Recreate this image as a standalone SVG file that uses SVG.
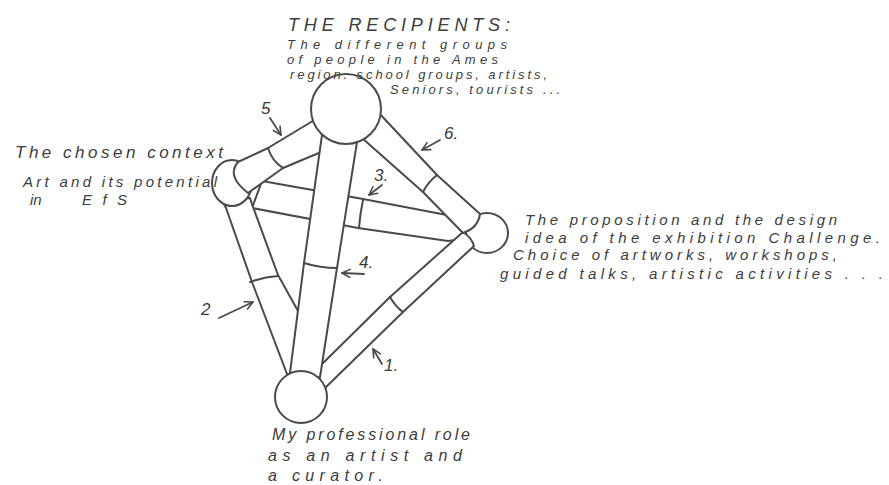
<svg xmlns="http://www.w3.org/2000/svg" width="889" height="485" viewBox="0 0 889 485">
<defs>
<style>
.ln{fill:#fff;stroke:#4a4a4a;stroke-width:2;stroke-linejoin:round;stroke-linecap:round}
.jt{fill:none;stroke:#4a4a4a;stroke-width:2;stroke-linecap:round}
.ar{fill:none;stroke:#4a4a4a;stroke-width:1.8;stroke-linecap:round;marker-end:url(#ah)}
text{font-family:"Liberation Sans","DejaVu Sans",sans-serif;font-style:italic;fill:#3c3c3c}
.t{font-size:15px}
.s{font-size:13px}
.n{font-size:17px}
</style>
<marker id="ah" viewBox="0 0 10 10" refX="9" refY="5" markerWidth="10" markerHeight="10" markerUnits="userSpaceOnUse" orient="auto">
<path d="M1,1 L9,5 L1,9" fill="none" stroke="#4a4a4a" stroke-width="1.6" stroke-linecap="round" stroke-linejoin="round"/>
</marker>
</defs>
<rect width="889" height="485" fill="#fff"/>

<g id="connectors">
<g id="tube3">
<path class="ln" d="M262,181 L363,199 L452,216 L470,238 L448,241 L358,228 L252,208 Z"/>
<path class="jt" d="M363,200 Q360,214 359,228"/>
</g>
<g id="tube2">
<path class="ln" d="M222,200 L226,208 L252,282 L287,374 L296,376 L303,320 L278,275 L253,207 L250,198 Z"/>
<path class="jt" d="M250,282 Q264,277 278,276"/>
</g>
</g>

<g id="node-context">
<ellipse class="ln" cx="232" cy="183" rx="20" ry="23"/>
</g>

<g id="connectors-front">
<g id="tube5">
<path class="ln" d="M316,119 L268,148 L238,162 Q226,176 248,193 L283,168 L326,150 L330,125 Z"/>
<path class="jt" d="M268,148 Q272,161 283,168"/>
</g>
</g>

<g id="node-proposition">
<ellipse class="ln" cx="487" cy="233" rx="21" ry="20"/>
</g>

<g id="connectors-right">
<g id="tube1">
<path class="ln" d="M463,232 L390,297 L316,370 L324,389 L403,312 L474,246 Q472,238 463,232 Z"/>
<path class="jt" d="M390,297 Q395,306 403,312"/>
</g>
<g id="tube6">
<path class="ln" d="M378,112 L437,175 L480,214 Q478,228 463,233 L423,192 L362,138 Z"/>
<path class="jt" d="M437,175 Q428,182 423,192"/>
</g>
<g id="tube4">
<path class="ln" d="M322,135 L304,263 L290,373 Q305,380 320,377 L337,268 L357,142 Z"/>
<path class="jt" d="M304,263 Q320,268 337,268"/>
</g>
</g>

<g id="node-recipients">
<circle class="ln" cx="346" cy="109" r="35"/>
<text x="288" y="31" font-size="18" textLength="222" lengthAdjust="spacing">THE RECIPIENTS:</text>
<text class="s" x="287" y="49" textLength="220" lengthAdjust="spacing">The different groups</text>
<text class="s" x="287" y="64" textLength="211" lengthAdjust="spacing">of people in the Ames</text>
<text class="s" x="290" y="79" textLength="257" lengthAdjust="spacing">region. school groups, artists,</text>
<text class="s" x="390" y="94" textLength="170" lengthAdjust="spacing">Seniors, tourists ...</text>
</g>

<g id="node-role">
<circle class="ln" cx="301" cy="397" r="26"/>
<text x="272" y="440" font-size="16" textLength="198" lengthAdjust="spacing">My professional role</text>
<text x="268" y="461" font-size="16" textLength="194" lengthAdjust="spacing">as an artist and</text>
<text x="268" y="481" font-size="16" textLength="115" lengthAdjust="spacing">a curator.</text>
</g>

<g id="label-context">
<text x="15" y="158" font-size="17" textLength="208" lengthAdjust="spacing">The chosen context</text>
<text class="t" x="23" y="187" textLength="194" lengthAdjust="spacing">Art and its potential</text>
<text class="t" x="30" y="205">in</text>
<text class="t" x="82" y="205" textLength="45" lengthAdjust="spacing">EfS</text>
</g>

<g id="label-proposition">
<text class="t" x="525" y="225" textLength="312" lengthAdjust="spacing">The proposition and the design</text>
<text class="t" x="525" y="243" textLength="355" lengthAdjust="spacing">idea of the exhibition Challenge.</text>
<text class="t" x="513" y="260" textLength="324" lengthAdjust="spacing">Choice of artworks, workshops,</text>
<text class="t" x="500" y="279" textLength="383" lengthAdjust="spacing">guided talks, artistic activities . . .</text>
</g>

<g id="annotations">
<text class="n" x="261" y="114">5</text>
<line class="ar" x1="270" y1="118" x2="281" y2="135"/>
<text class="n" x="444" y="139">6.</text>
<line class="ar" x1="440" y1="140" x2="422" y2="150"/>
<text class="n" x="374" y="181" font-size="15">3.</text>
<line class="ar" x1="382" y1="185" x2="369" y2="195"/>
<text class="n" x="359" y="268">4.</text>
<line class="ar" x1="364" y1="274" x2="342" y2="273"/>
<text class="n" x="201" y="315">2</text>
<line class="ar" x1="219" y1="318" x2="253" y2="302"/>
<text class="n" x="384" y="371">1.</text>
<line class="ar" x1="382" y1="364" x2="373" y2="349"/>
</g>
</svg>
